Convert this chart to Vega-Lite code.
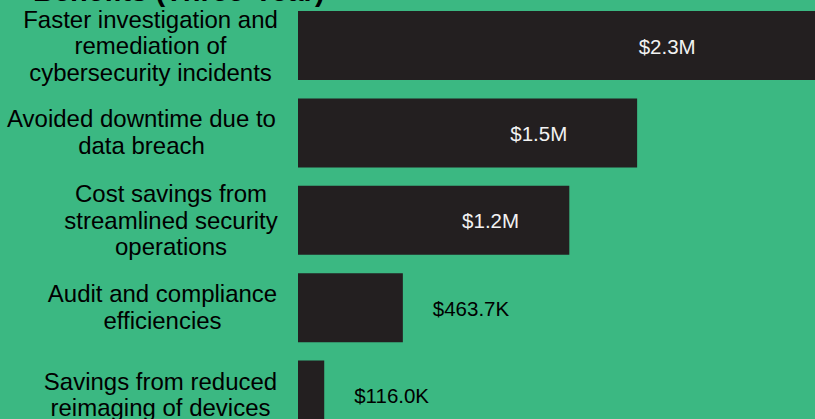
{
  "$schema": "https://vega.github.io/schema/vega-lite/v6.json",
  "autosize": {"type": "none"},
  "padding": {"left": 298, "top": 2.3, "right": 0, "bottom": 0},
  "width": 520,
  "height": 436,
  "background": "#3bb882",
  "config": {"view": {"stroke": null}, "font": "Liberation Sans"},
  "title": {
    "text": "Benefits (Three-Year)",
    "anchor": "start",
    "frame": "group",
    "dx": -265,
    "offset": -5,
    "fontSize": 29,
    "fontWeight": "bold",
    "font": "Liberation Sans",
    "color": "#000000"
  },
  "data": {
    "values": [
      {"category": "Faster investigation and|remediation of|cybersecurity incidents", "value": 2300000, "display": "$2.3M"},
      {"category": "Avoided downtime due to|data breach", "value": 1500000, "display": "$1.5M"},
      {"category": "Cost savings from|streamlined security|operations", "value": 1200000, "display": "$1.2M"},
      {"category": "Audit and compliance|efficiencies", "value": 463700, "display": "$463.7K"},
      {"category": "Savings from reduced|reimaging of devices", "value": 116000, "display": "$116.0K"}
    ]
  },
  "encoding": {
    "y": {
      "field": "category",
      "type": "nominal",
      "sort": null,
      "scale": {"paddingInner": 0.21, "paddingOuter": 0.1},
      "axis": {
        "title": null,
        "domain": false,
        "ticks": false,
        "tickSize": 0,
        "labelExpr": "split(datum.label, '|')",
        "labelAlign": "center",
        "labelBaseline": "middle",
        "labelPadding": {
          "condition": [
            {"test": "indexof(datum.value, 'Faster') == 0", "value": 148},
            {"test": "indexof(datum.value, 'Avoided') == 0", "value": 157},
            {"test": "indexof(datum.value, 'Cost') == 0", "value": 127.5},
            {"test": "indexof(datum.value, 'Audit') == 0", "value": 136}
          ],
          "value": 138
        },
        "labelOffset": {
          "condition": {"test": "length(split(datum.value, '|')) == 3", "value": -25},
          "value": -12.5
        },
        "labelFontSize": 24,
        "labelLineHeight": 26.5,
        "labelLimit": 0,
        "labelColor": "#000000",
        "labelFont": "Liberation Sans"
      }
    }
  },
  "layer": [
    {
      "mark": {"type": "bar", "color": "#231f20"},
      "encoding": {
        "x": {"field": "value", "type": "quantitative", "scale": {"domain": [0, 2300000], "nice": false}, "axis": null}
      }
    },
    {
      "transform": [{"filter": "datum.value >= 1000000"}],
      "mark": {"type": "text", "color": "#f2f2f2", "fontSize": 20.5, "align": "center", "baseline": "middle", "dy": 2},
      "encoding": {
        "x": {"field": "value", "type": "quantitative", "scale": {"domain": [0, 3240000], "nice": false}, "axis": null},
        "text": {"field": "display"}
      }
    },
    {
      "transform": [{"filter": "datum.value < 1000000"}],
      "mark": {"type": "text", "color": "#000000", "fontSize": 20.5, "align": "left", "baseline": "middle", "dx": 30, "dy": 2},
      "encoding": {
        "x": {"field": "value", "type": "quantitative", "scale": {"domain": [0, 2300000], "nice": false}, "axis": null},
        "text": {"field": "display"}
      }
    }
  ],
  "resolve": {"scale": {"x": "independent"}}
}
